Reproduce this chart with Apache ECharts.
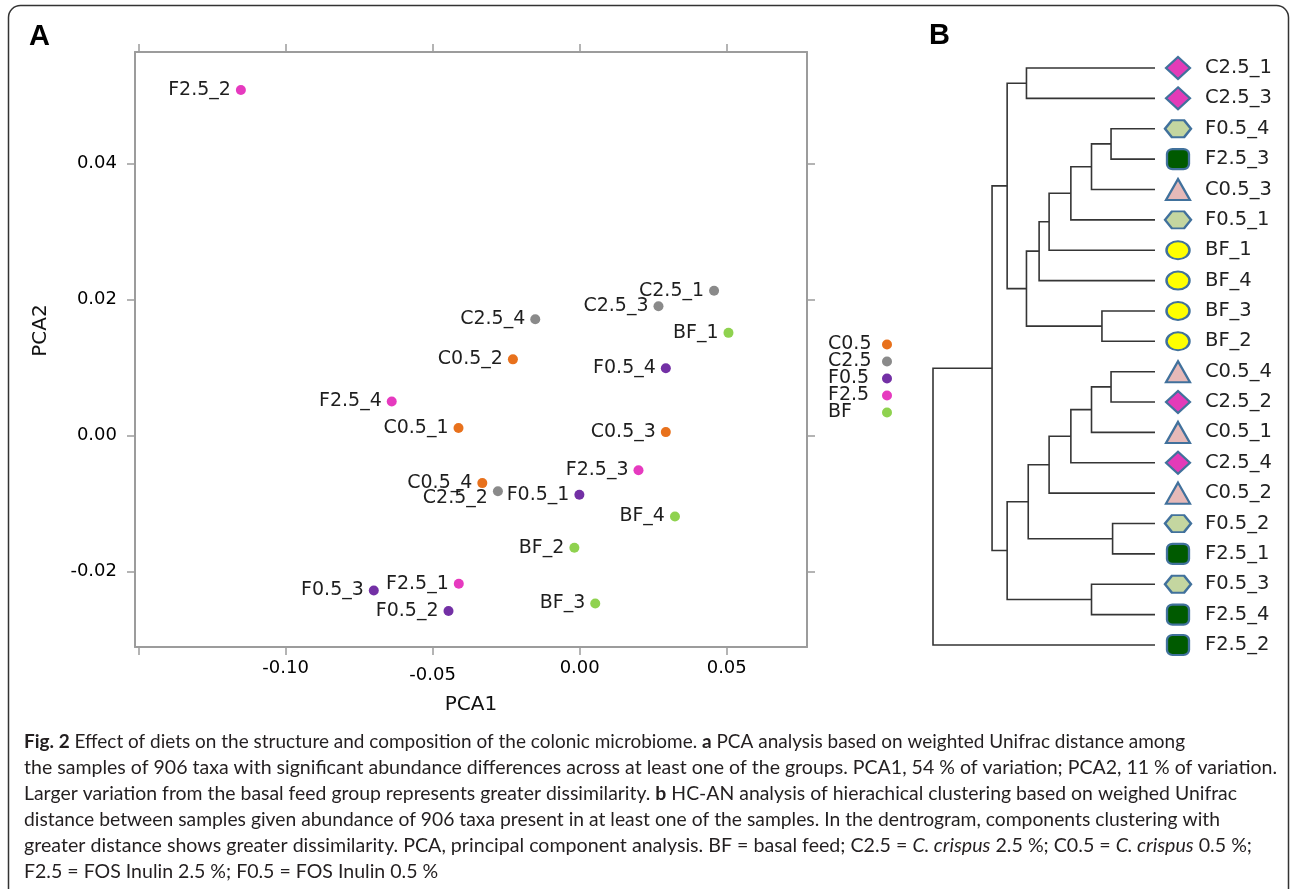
<!DOCTYPE html>
<html><head><meta charset="utf-8">
<script src="https://cdn.jsdelivr.net/npm/echarts@6/dist/echarts.min.js"></script>
<style>html,body{margin:0;padding:0;background:#fff}#c{width:1290px;height:889px}</style>
</head><body><div id="c"></div>
<script>
// ---------- Panel A data (PCA) ----------
const groups = ['C0.5', 'C2.5', 'F0.5', 'F2.5', 'BF'];
const groupColors = ['#e8711c', '#8a8a8a', '#7330a5', '#e63abf', '#8fd24f'];
const samples  = ['C0.5_1','C0.5_2','C0.5_3','C0.5_4','C2.5_1','C2.5_2','C2.5_3','C2.5_4','F0.5_1','F0.5_2','F0.5_3','F0.5_4','F2.5_1','F2.5_2','F2.5_3','F2.5_4','BF_1','BF_2','BF_3','BF_4'];
const pca1 = [-0.0412,-0.0227, 0.0293,-0.0331, 0.0457,-0.0278, 0.0268,-0.0151,-0.0001,-0.0446,-0.0700, 0.0293,-0.0411,-0.1152, 0.0200,-0.0639, 0.0506,-0.0018, 0.0053, 0.0324];
const pca2 = [ 0.0011, 0.0112, 0.0005,-0.0070, 0.0213,-0.0082, 0.0190, 0.0171,-0.0087,-0.0258,-0.0228, 0.0099,-0.0218, 0.0508,-0.0051, 0.0050, 0.0151,-0.0165,-0.0247,-0.0119];
const xTicks = [-0.15, -0.10, -0.05, 0.00, 0.05];
const xTickLabels = [-0.10, -0.05, 0.00, 0.05];
const yTicks = [-0.02, 0.00, 0.02, 0.04];
const labelShift = { 'C2.5_2': [0, 7] };

// ---------- Panel B data (dendrogram) ----------
const leaves = ['C2.5_1','C2.5_3','F0.5_4','F2.5_3','C0.5_3','F0.5_1','BF_1','BF_4','BF_3','BF_2','C0.5_4','C2.5_2','C0.5_1','C2.5_4','C0.5_2','F0.5_2','F2.5_1','F0.5_3','F2.5_4','F2.5_2'];
// merges: left child, right child, height  (#k = k-th merge)
const mergeLeft   = ['C2.5_1','F0.5_4','#1','#2','#3','#4','BF_3','#5','#0','C0.5_4','#9','#10','#11','F0.5_2','#12','F0.5_3','#14','#8','#17'];
const mergeRight  = ['C2.5_3','F2.5_3','C0.5_3','F0.5_1','BF_1','BF_4','BF_2','#6','#7','C2.5_2','C0.5_1','C2.5_4','C0.5_2','F2.5_1','#13','F2.5_4','#15','#16','F2.5_2'];
const mergeHeight = [0.579, 0.198, 0.286, 0.379, 0.477, 0.522, 0.239, 0.579, 0.666, 0.198, 0.286, 0.379, 0.477, 0.191, 0.571, 0.286, 0.666, 0.734, 1.0];

const captionLines = [
  '{b|Fig. 2} Effect of diets on the structure and composition of the colonic microbiome. {b|a} PCA analysis based on weighted Unifrac distance among',
  'the samples of 906 taxa with significant abundance differences across at least one of the groups. PCA1, 54 % of variation; PCA2, 11 % of variation.',
  'Larger variation from the basal feed group represents greater dissimilarity. {b|b} HC-AN analysis of hierachical clustering based on weighed Unifrac',
  'distance between samples given abundance of 906 taxa present in at least one of the samples. In the dentrogram, components clustering with',
  'greater distance shows greater dissimilarity. PCA, principal component analysis. BF = basal feed; C2.5 = {i|C. crispus} 2.5 %; C0.5 = {i|C. crispus} 0.5 %;',
  'F2.5 = FOS Inulin 2.5 %; F0.5 = FOS Inulin 0.5 %'
];
const captionLineEnds = [1185, 1277, 1237, 1220, 1252, null];

// ---------- build ----------
const FONT = 'DejaVu Sans';
const CAP_FONT = 'Lato';
const CAP_SIZE = 19.5;
const CAP_LEFT = 24;
const axisGray = '#9c9c9c';

function groupOf(name) { return name.split('_')[0]; }

const scatterSeries = groups.map((g, gi) => ({
  type: 'scatter', name: g, xAxisIndex: 0, yAxisIndex: 0,
  symbolSize: 10, itemStyle: { color: groupColors[gi], opacity: 1 },
  label: { show: true, position: 'left', distance: 5, formatter: '{b}',
           fontFamily: FONT, fontSize: 19, color: '#1e1e1e' },
  data: samples.map((s, i) => ({ s, i })).filter(o => groupOf(o.s) === g).map(o => {
    const d = { name: o.s, value: [pca1[o.i], pca2[o.i]] };
    if (labelShift[o.s]) d.label = { offset: labelShift[o.s] };
    return d;
  })
}));

// dendrogram geometry
const nodeY = [], nodeH = [];
function ref(r) {
  if (r[0] === '#') { const k = +r.slice(1); return [nodeH[k], nodeY[k]]; }
  return [0, leaves.indexOf(r)];
}
const dendroLines = [];
mergeLeft.forEach((l, k) => {
  const a = ref(l), b = ref(mergeRight[k]), h = mergeHeight[k];
  nodeH[k] = h; nodeY[k] = (a[1] + b[1]) / 2;
  dendroLines.push({ coords: [[a[0], a[1]], [h, a[1]], [h, b[1]], [b[0], b[1]]] });
});

const hexPath = 'path://M0 5L3.2 0L8.8 0L12 5L8.8 10L3.2 10Z';
const leafStyle = {
  'C2.5': { symbol: 'diamond', size: [24, 22], color: '#e33bb8' },
  'F0.5': { symbol: hexPath, size: [26, 17], color: '#c4d6a0' },
  'F2.5': { symbol: 'roundRect', size: [22, 20], color: '#005a00' },
  'C0.5': { symbol: 'triangle', size: [24, 21], color: '#e6b9b8' },
  'BF':   { symbol: 'circle', size: [23, 18], color: '#ffff00' }
};
const leafSymbols = leaves.map((l, i) => {
  const st = leafStyle[groupOf(l)];
  return { value: [0, i], symbol: st.symbol, symbolSize: st.size,
           itemStyle: { color: st.color, borderColor: '#41719c', borderWidth: 2.2, opacity: 1 } };
});

// caption: each line scaled horizontally to its measured span in the reference
const mctx = document.createElement('canvas').getContext('2d');
function lineWidth(t) {
  let w = 0;
  const re = /\{([a-z])\|([^}]*)\}/g;
  let last = 0, m;
  const seg = (txt, st) => {
    if (!txt) return;
    mctx.font = (st === 'i' ? 'italic ' : '') + (st === 'b' ? 'bold ' : '') + CAP_SIZE + 'px ' + CAP_FONT;
    w += mctx.measureText(txt).width;
  };
  while ((m = re.exec(t))) { seg(t.slice(last, m.index), ''); seg(m[2], m[1]); last = re.lastIndex; }
  seg(t.slice(last), '');
  return w;
}
const baseScale = (captionLineEnds[1] - CAP_LEFT) / lineWidth(captionLines[1]);
const capRich = {
  b: { fontFamily: CAP_FONT, fontSize: CAP_SIZE, fontWeight: 'bold', fill: '#231f20', color: '#231f20' },
  i: { fontFamily: CAP_FONT, fontSize: CAP_SIZE, fontStyle: 'italic', fill: '#231f20', color: '#231f20' }
};
const captionGraphics = captionLines.map((t, i) => ({
  type: 'text', x: CAP_LEFT, y: 742 + i * 26, silent: true,
  scaleX: captionLineEnds[i] ? (captionLineEnds[i] - CAP_LEFT) / lineWidth(t) : baseScale,
  style: { text: t, fontFamily: CAP_FONT, fontSize: CAP_SIZE, fill: '#231f20',
           verticalAlign: 'middle', align: 'left', rich: capRich }
}));

const fmt2 = v => (Math.abs(v) < 1e-9 ? 0 : v).toFixed(2);
const tickStyle = { color: axisGray, width: 1.5 };
const lineStyle = { color: axisGray, width: 2 };
const X_MIN = -0.1512, X_MAX = 0.0773, Y_MIN = -0.0311, Y_MAX = 0.0564;

const option = {
  animation: false,
  backgroundColor: '#ffffff',
  grid: [
    { left: 135, top: 52, width: 672, height: 595 },
    { left: 933, top: 68, width: 222, height: 577 }
  ],
  legend: {
    data: groups, left: 828, top: 335, padding: 0, orient: 'vertical', align: 'right',
    icon: 'circle', itemWidth: 10, itemHeight: 10, itemGap: -2, selectedMode: false,
    formatter: n => '{t|' + n + '}',
    textStyle: { fontFamily: FONT, fontSize: 19, color: '#1e1e1e', lineHeight: 16,
      rich: { t: { width: 49, align: 'left', fontFamily: FONT, fontSize: 19, lineHeight: 16, color: '#1e1e1e' } } }
  },
  xAxis: [
    { gridIndex: 0, type: 'value', position: 'bottom', min: X_MIN, max: X_MAX,
      axisLine: { show: true, onZero: false, lineStyle },
      axisTick: { show: true, length: 8, customValues: xTicks, lineStyle: tickStyle },
      axisLabel: { customValues: xTickLabels, margin: 12, fontFamily: FONT, fontSize: 18, color: '#000',
        formatter: v => Math.abs(v + 0.05) < 1e-9 ? '{lo|' + fmt2(v) + '}' : fmt2(v),
        rich: { lo: { padding: [7, 0, 0, 0], fontFamily: FONT, fontSize: 18, color: '#000' } } },
      splitLine: { show: false },
      name: 'PCA1', nameLocation: 'middle', nameGap: 48,
      nameTextStyle: { fontFamily: FONT, fontSize: 20, color: '#111' } },
    { gridIndex: 0, type: 'value', position: 'top', min: X_MIN, max: X_MAX,
      axisLine: { show: true, onZero: false, lineStyle },
      axisTick: { show: true, length: 8, customValues: xTicks, lineStyle: tickStyle },
      axisLabel: { show: false }, splitLine: { show: false } },
    { gridIndex: 1, type: 'value', min: 0, max: 1, inverse: true, show: false }
  ],
  yAxis: [
    { gridIndex: 0, type: 'value', position: 'left', min: Y_MIN, max: Y_MAX,
      axisLine: { show: true, onZero: false, lineStyle },
      axisTick: { show: true, length: 8, customValues: yTicks, lineStyle: tickStyle },
      axisLabel: { customValues: yTicks, margin: 18, fontFamily: FONT, fontSize: 18, color: '#000', formatter: fmt2 },
      splitLine: { show: false },
      name: 'PCA2', nameLocation: 'middle', nameGap: 84, nameRotate: 90,
      nameTextStyle: { fontFamily: FONT, fontSize: 20, color: '#111', padding: [0, 0, 0, 38] } },
    { gridIndex: 0, type: 'value', position: 'right', min: Y_MIN, max: Y_MAX,
      axisLine: { show: true, onZero: false, lineStyle },
      axisTick: { show: true, length: 8, customValues: yTicks, lineStyle: tickStyle },
      axisLabel: { show: false }, splitLine: { show: false } },
    { gridIndex: 1, type: 'value', position: 'left', min: 0, max: leaves.length - 1, inverse: true, show: false },
    { gridIndex: 1, type: 'category', position: 'right', data: leaves, inverse: true, boundaryGap: false,
      axisLine: { show: false }, axisTick: { show: false }, splitLine: { show: false },
      axisLabel: { margin: 50, fontFamily: FONT, fontSize: 19.5, color: '#222', interval: 0 } }
  ],
  series: [
    ...scatterSeries,
    { type: 'lines', coordinateSystem: 'cartesian2d', xAxisIndex: 2, yAxisIndex: 2,
      polyline: true, silent: true, clip: false,
      lineStyle: { color: '#353535', width: 1.6, opacity: 1 }, data: dendroLines },
    { type: 'scatter', xAxisIndex: 2, yAxisIndex: 2, clip: false, silent: true,
      symbolOffset: [23, 0], data: leafSymbols, z: 5 }
  ],
  graphic: [
    { type: 'rect', silent: true, shape: { x: 8.5, y: 5.5, width: 1280, height: 940, r: 12 },
      style: { fill: 'none', stroke: '#333', lineWidth: 1.5 } },
    { type: 'text', x: 29, y: 22, silent: true,
      style: { text: 'A', fontFamily: 'Liberation Sans', fontWeight: 'bold', fontSize: 29, fill: '#000' } },
    { type: 'text', x: 929, y: 21, silent: true,
      style: { text: 'B', fontFamily: 'Liberation Sans', fontWeight: 'bold', fontSize: 29, fill: '#000' } },
    ...captionGraphics
  ]
};

const chart = echarts.init(document.getElementById('c'), null, { renderer: 'canvas' });
chart.setOption(option);
</script></body></html>
